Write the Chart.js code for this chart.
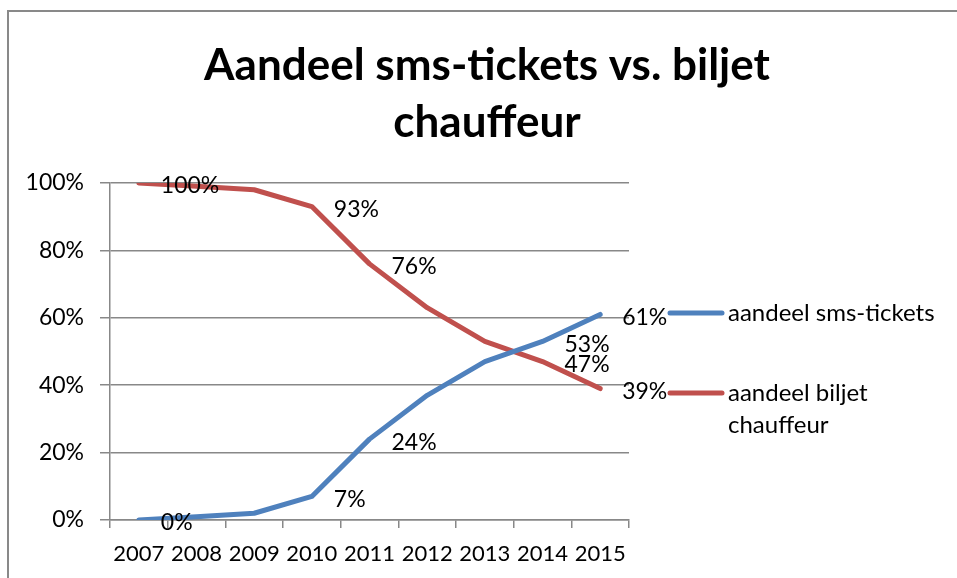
<!DOCTYPE html>
<html>
<head>
<meta charset="utf-8">
<script src="https://cdn.jsdelivr.net/npm/chart.js@4.4.1/dist/chart.umd.min.js"></script>
<style>
  html, body { margin: 0; padding: 0; background: #fff; }
  #wrap { position: relative; width: 957px; height: 578px; }
  #frame { position: absolute; left: 7px; top: 10px; right: 0; bottom: -4px;
           border-left: 2px solid #898989; border-top: 2px solid #898989; pointer-events: none; }
</style>
</head>
<body>
<div id="wrap">
  <canvas id="chart" width="957" height="578"></canvas>
  <div id="frame"></div>
</div>
<script>
const years = ['2007', '2008', '2009', '2010', '2011', '2012', '2013', '2014', '2015'];
const smsShare = [0, 1, 2, 7, 24, 37, 47, 53, 61];
const driverShare = [100, 99, 98, 93, 76, 63, 53, 47, 39];
const labelledPoints = [0, 3, 4, 7, 8];
const yTicks = [0, 20, 40, 60, 80, 100];
const titleLines = ['Aandeel sms-tickets vs. biljet', 'chauffeur'];

const FONT = 'Lato, "Open Sans", sans-serif';

// title drawn across the full width (the legend space is taken by padding)
const bigTitle = {
    id: 'bigTitle',
    afterDraw(chart) {
        const ctx = chart.ctx;
        ctx.save();
        ctx.font = 'bold 44px ' + FONT;
        ctx.fillStyle = '#000';
        ctx.textAlign = 'center';
        ctx.textBaseline = 'middle';
        titleLines.forEach((t, i) => ctx.fillText(t, 487, 66 + i * 57));
        ctx.restore();
    }
};

// draws value labels to the right of selected points
const valueLabels = {
    id: 'valueLabels',
    afterDatasetsDraw(chart) {
        const ctx = chart.ctx;
        ctx.save();
        ctx.font = '23px ' + FONT;
        ctx.fillStyle = '#000';
        ctx.textAlign = 'left';
        ctx.textBaseline = 'middle';
        chart.data.datasets.forEach((ds, i) => {
            const meta = chart.getDatasetMeta(i);
            labelledPoints.forEach(idx => {
                const pt = meta.data[idx];
                ctx.fillText(ds.data[idx] + '%', pt.x + 22, pt.y + 3);
            });
        });
        ctx.restore();
    }
};

// legend on the right with wrapping text
const sideLegend = {
    id: 'sideLegend',
    afterDraw(chart) {
        const ctx = chart.ctx;
        const area = chart.chartArea;
        const x0 = area.right + 39;
        const textX = x0 + 60;
        const maxW = chart.width - textX - 6;
        let y = area.top + 130;
        ctx.save();
        ctx.font = '24px ' + FONT;
        ctx.textBaseline = 'middle';
        ctx.textAlign = 'left';
        chart.data.datasets.forEach(ds => {
            ctx.strokeStyle = ds.borderColor;
            ctx.lineWidth = 5;
            ctx.lineCap = 'round';
            ctx.beginPath();
            ctx.moveTo(x0 + 2, y);
            ctx.lineTo(x0 + 54, y);
            ctx.stroke();
            const words = ds.label.split(' ');
            const lines = [];
            let cur = '';
            words.forEach(w => {
                const test = cur ? cur + ' ' + w : w;
                if (cur && ctx.measureText(test).width > maxW) {
                    lines.push(cur);
                    cur = w;
                } else {
                    cur = test;
                }
            });
            lines.push(cur);
            ctx.fillStyle = '#000';
            lines.forEach((ln, k) => ctx.fillText(ln, textX, y + k * 32));
            y += 80;
        });
        ctx.restore();
    }
};

new Chart(document.getElementById('chart'), {
    type: 'line',
    data: {
        labels: years,
        datasets: [
            {
                label: 'aandeel sms-tickets',
                data: smsShare,
                borderColor: '#4F81BD',
                borderWidth: 5,
                pointRadius: 0,
                tension: 0,
                borderJoinStyle: 'round',
                borderCapStyle: 'round'
            },
            {
                label: 'aandeel biljet chauffeur',
                data: driverShare,
                borderColor: '#C0504D',
                borderWidth: 5,
                pointRadius: 0,
                tension: 0,
                borderJoinStyle: 'round',
                borderCapStyle: 'round'
            }
        ]
    },
    options: {
        responsive: false,
        animation: false,
        layout: { padding: { left: 0, right: 328, top: 183, bottom: 0 } },
        plugins: {
            legend: { display: false },
            tooltip: { enabled: false },
            title: { display: false }
        },
        scales: {
            x: {
                offset: true,
                grid: { offset: true, drawOnChartArea: false, drawTicks: true, tickLength: 8, color: '#888', lineWidth: 1.5 },
                border: { color: '#888', width: 1.5 },
                ticks: { color: '#000', font: { family: FONT, size: 22 }, padding: 13, maxRotation: 0, autoSkip: false },
                afterFit(scale) { scale.height = 58; }
            },
            y: {
                min: 0,
                max: 100,
                afterBuildTicks(scale) { scale.ticks = yTicks.map(v => ({ value: v })); },
                grid: { color: '#888', lineWidth: 1.5, tickLength: 10 },
                border: { color: '#888', width: 1.5 },
                ticks: { color: '#000', font: { family: FONT, size: 23 }, padding: 16, callback: v => v + '%' },
                afterFit(scale) { scale.width = 110; }
            }
        }
    },
    plugins: [bigTitle, valueLabels, sideLegend]
});
</script>
</body>
</html>
